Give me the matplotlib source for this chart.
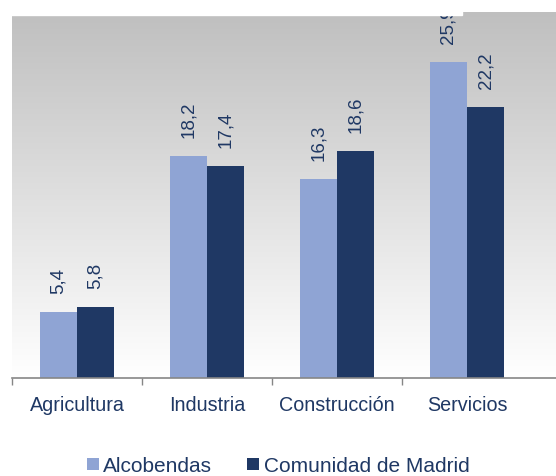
import matplotlib.pyplot as plt
import numpy as np
from matplotlib.patches import Rectangle

plt.rcParams['font.family'] = ['Liberation Sans', 'DejaVu Sans']

categories = ['Agricultura', 'Industria', 'Construcción', 'Servicios']
series_names = ['Alcobendas', 'Comunidad de Madrid']
alcobendas = [5.4, 18.2, 16.3, 25.9]
madrid = [5.8, 17.4, 18.6, 22.2]

light = '#8fa4d4'
dark = '#1f3864'
text_col = '#1f3864'

W, H = 556, 476
fig = plt.figure(figsize=(W / 100, H / 100), dpi=100)
ax = fig.add_axes([12 / W, (H - 378) / H, (W - 12) / W, (378 - 12) / H])

x = np.arange(len(categories))
w = 0.285
b1 = ax.bar(x - w / 2, alcobendas, w, color=light, label=series_names[0], zorder=2)
b2 = ax.bar(x + w / 2, madrid, w, color=dark, label=series_names[1], zorder=2)

for bars, vals in ((b1, alcobendas), (b2, madrid)):
    for rect, v in zip(bars, vals):
        ax.annotate(f'{v:.1f}'.replace('.', ','),
                    (rect.get_x() + rect.get_width() / 2, rect.get_height()),
                    xytext=(0, 13), textcoords='offset points',
                    rotation=90, ha='center', va='bottom',
                    fontsize=13.5, color=text_col, zorder=3)

xmax = -0.5 + (W - 12) / 130
ax.set_xlim(-0.5, xmax)
ax.set_ylim(0, 30)

# gradient background, gray at top fading to white
cmap = plt.matplotlib.colors.LinearSegmentedColormap.from_list('g', ['#ffffff', '#bfbfbf'])
grad = np.linspace(0, 1, 256).reshape(-1, 1)
ax.imshow(grad, cmap=cmap, aspect='auto', origin='lower',
          extent=[-0.5, xmax, 0, 30], zorder=0)

ax.set_xticks(x)
ax.set_xticklabels(categories, fontsize=14.2, color=text_col)
ax.tick_params(axis='x', length=0, pad=13)
ax.set_xticks(np.arange(-0.5, len(categories) - 1), minor=True)
ax.tick_params(axis='x', which='minor', length=5, color='#868686', width=1)
ax.set_yticks([])
for s in ['top', 'right', 'left']:
    ax.spines[s].set_visible(False)
ax.spines['bottom'].set_color('#868686')
ax.spines['bottom'].set_linewidth(1.2)

# white strip over top left
fig.patches.append(Rectangle((0, (H - 15) / H), 462 / W, 15 / H,
                             transform=fig.transFigure, color='white', zorder=10))

fig.legend(handles=[b1, b2], loc='center', bbox_to_anchor=(0.5, (H - 466) / H),
           ncol=2, frameon=False, fontsize=15, handlelength=0.58, handleheight=0.55,
           handletextpad=0.2, columnspacing=1.7, labelcolor=text_col)

fig.savefig('out.png', dpi=100)
